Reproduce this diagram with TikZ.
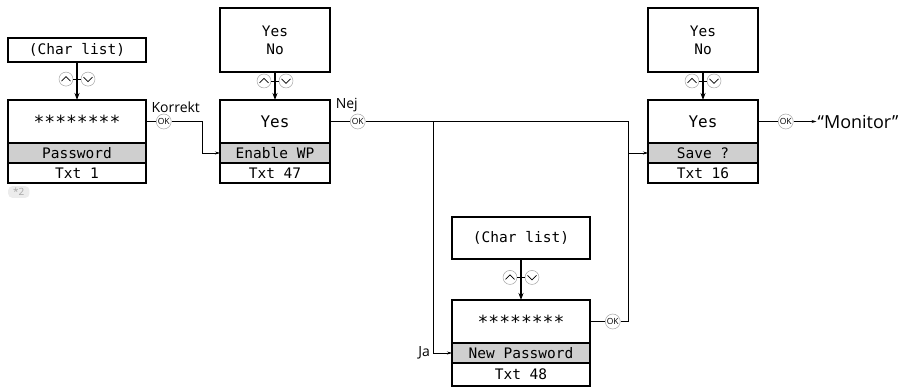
\documentclass[tikz,border=0pt]{standalone}
\usepackage{fontspec}
\setmainfont{Open Sans}
\newfontfamily\lcdfont{DejaVu Sans Mono}
\usetikzlibrary{positioning,arrows.meta}

\tikzset{
  screen/.style={draw, line width=1.4pt, inner sep=0pt, outer sep=0pt, align=center,
    font=\lcdfont\fontsize{14.5}{18}\selectfont},
  valbox/.style={screen, minimum height=43pt, font=\lcdfont\fontsize{16}{18}\selectfont},
  lblbox/.style={screen, fill=gray!38, minimum height=20pt},
  txtbox/.style={screen, minimum height=20pt},
  wide/.style={minimum width=138pt},
  narrow/.style={minimum width=110pt},
  feed/.style={-{Stealth[length=7pt,width=5pt]}, line width=1.1pt},
  flow/.style={-{Stealth[length=5pt,width=3pt]}, line width=0.6pt},
  okbtn/.style={circle, draw=gray!70, line width=0.5pt, fill=white, inner sep=0pt,
    minimum size=15pt, font=\fontsize{8.5}{8.5}\selectfont},
  lab/.style={font=\fontsize{14}{16}\selectfont, inner sep=1pt},
  tagbox/.style={fill=gray!15, text=gray!70, rounded corners=4pt, inner xsep=5pt, inner ysep=2pt,
    font=\fontsize{10}{10}\selectfont},
  keys/.pic={
    \draw[gray!70, line width=0.5pt, fill=white] (-11,0) circle (7) (11,0) circle (7);
    \draw[line width=0.7pt] (-15.5,2) -- (-11,-2.5) -- (-6.5,2);
    \draw[line width=0.7pt] (6.5,-2) -- (11,2.5) -- (15.5,-2);
    \draw[line width=0.7pt] (-4,0) -- (4,0);
  }
}
\newcommand\stars{\raisebox{-0.42em}{\fontsize{18}{18}\selectfont ********}}

\begin{document}
\begin{tikzpicture}[x=1pt, y=-1pt]
    \useasboundingbox (0,0) rectangle (900,387);
    % Password screen
    \node[screen, wide, minimum height=24pt] (cl1) at (77,50) {(Char list)};
    \node[valbox, wide, anchor=north] (pwv) at (77,100) {\stars};
    \node[lblbox, wide, below=0pt of pwv] (pwl) {Password};
    \node[txtbox, wide, below=0pt of pwl] (pwt) {Txt 1};
    \node[tagbox, anchor=north west] (tag) at (8,186) {*2};
    % Enable WP screen
    \node[screen, narrow, minimum height=64pt] (yn2) at (275,40) {Yes\\No};
    \node[valbox, narrow, anchor=north] (wpv) at (275,100) {Yes};
    \node[lblbox, narrow, below=0pt of wpv] (wpl) {Enable WP};
    \node[txtbox, narrow, below=0pt of wpl] (wpt) {Txt 47};
    % New password screen
    \node[screen, wide, minimum height=42pt] (cl3) at (521,238) {(Char list)};
    \node[valbox, wide, anchor=north] (npv) at (521,300) {\stars};
    \node[lblbox, wide, below=0pt of npv] (npl) {New Password};
    \node[txtbox, wide, below=0pt of npl, minimum height=23pt] (npt) {Txt 48};
    % Save screen
    \node[screen, narrow, minimum height=64pt] (yn4) at (703,40) {Yes\\No};
    \node[valbox, narrow, anchor=north] (svv) at (703,100) {Yes};
    \node[lblbox, narrow, below=0pt of svv] (svl) {Save ?};
    \node[txtbox, narrow, below=0pt of svl] (svt) {Txt 16};

    % Up/down keys
    \draw[feed] (cl1) -- coordinate[pos=0.45] (k1) (pwv);
    \draw[feed] (yn2) -- coordinate[pos=0.32] (k2) (wpv);
    \draw[feed] (cl3) -- coordinate[pos=0.45] (k3) (npv);
    \draw[feed] (yn4) -- coordinate[pos=0.32] (k4) (svv);
    \foreach \k in {k1, k2, k3, k4} {
        \pic at (\k) {keys};
    }

    % OK keys
    \node[okbtn, right=10pt of pwv] (ok1) {OK};
    \node[okbtn, right=20pt of wpv] (ok2) {OK};
    \node[okbtn, right=15pt of npv] (ok3) {OK};
    \node[okbtn, right=20pt of svv] (ok4) {OK};
    \node[font=\fontsize{18}{20}\selectfont, inner sep=1pt, right=23pt of ok4] (mon) {“Monitor”};

    % Corners
    \coordinate (c1) at (pwv.east -| 202,0);
    \coordinate (b1) at (wpv.east -| 433,0);
    \coordinate (c2) at (wpv.east -| 628,0);
    \coordinate (c3) at (npv.east -| 628,0);
    \coordinate (b2) at (b1 |- npl.west);

    % Connectors
    \draw[line width=0.6pt] (pwv) -- (ok1);
    \draw[flow] (ok1) -- (c1) |- (wpl);
    \draw[line width=0.6pt] (wpv) -- (ok2) -- (c2) -- (c3) -- (ok3) -- (npv);
    \draw[flow] (c2) |- (svl);
    \draw[flow] (b1) -- (b2) -- (npl);
    \draw[line width=0.6pt] (svv) -- (ok4);
    \draw[flow] (ok4) -- (mon);

    % Labels
    \node[lab, above=0pt of ok1, xshift=12pt] (kor) {Korrekt};
    \node[lab, above=1pt of ok2, xshift=-11pt] (nej) {Nej};
    \node[lab, left=2pt of b2] (ja) {Ja};
\end{tikzpicture}
\end{document}
